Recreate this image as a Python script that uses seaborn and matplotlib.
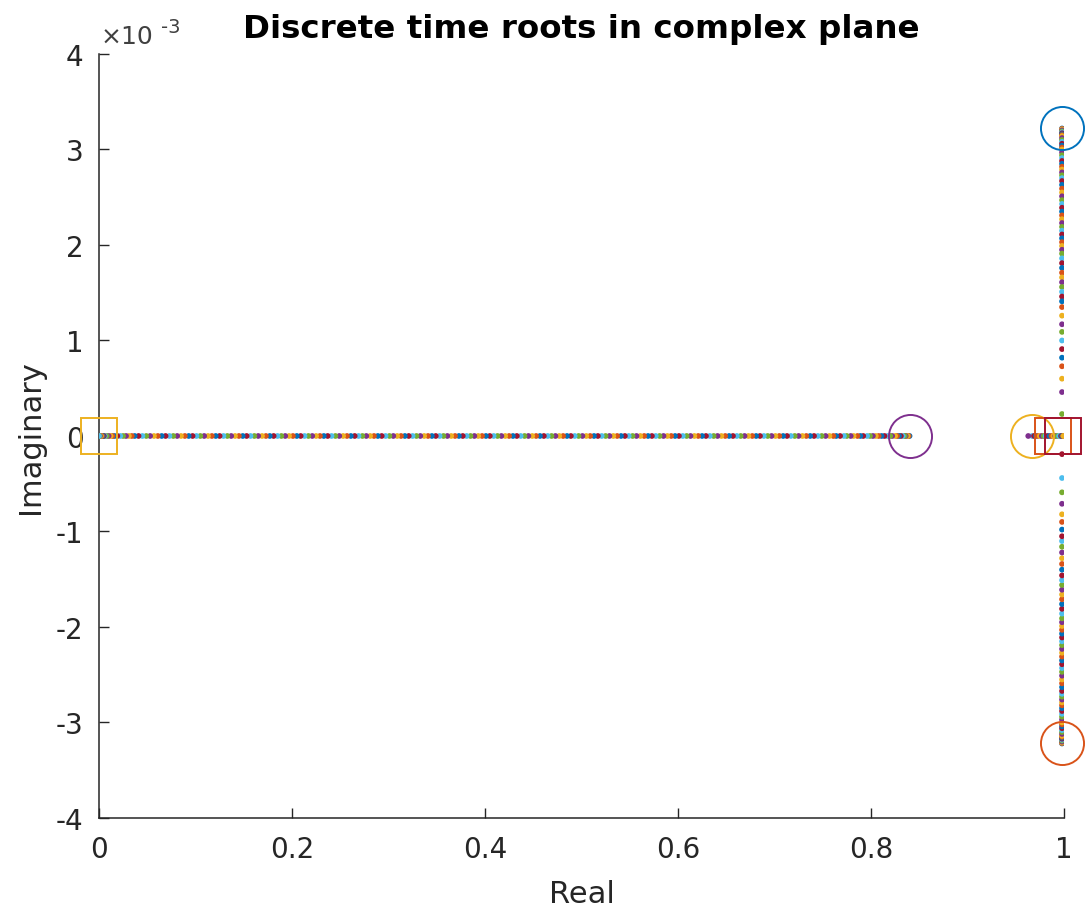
import matplotlib
matplotlib.use('agg')
import matplotlib.pyplot as plt
from matplotlib import ticker
import pandas as pd
import seaborn as sns

# matlab default colour order, cycled per gain step
matlab_colors = ['#0072BD', '#D95319', '#EDB120', '#7E2F8E', '#77AC30', '#4DBEEE', '#A2142F']

# real root moving from the pole at 0.84 towards the zero at 0 (imag = 0)
locus_real = [
    0.840, 0.839, 0.838, 0.836, 0.835, 0.833, 0.831, 0.829, 0.827, 0.825,
    0.822, 0.820, 0.817, 0.814, 0.811, 0.808, 0.805, 0.802, 0.799, 0.796,
    0.792, 0.789, 0.786, 0.782, 0.779, 0.775, 0.772, 0.768, 0.764, 0.761,
    0.757, 0.753, 0.749, 0.745, 0.741, 0.737, 0.733, 0.729, 0.725, 0.721,
    0.717, 0.713, 0.709, 0.705, 0.701, 0.697, 0.693, 0.689, 0.685, 0.681,
    0.677, 0.673, 0.669, 0.665, 0.661, 0.657, 0.653, 0.649, 0.645, 0.641,
    0.637, 0.633, 0.629, 0.625, 0.621, 0.617, 0.613, 0.609, 0.605, 0.601,
    0.597, 0.593, 0.589, 0.585, 0.581, 0.577, 0.573, 0.569, 0.565, 0.561,
    0.557, 0.553, 0.549, 0.545, 0.541, 0.537, 0.533, 0.529, 0.525, 0.521,
    0.517, 0.513, 0.509, 0.505, 0.501, 0.497, 0.493, 0.489, 0.485, 0.481,
    0.477, 0.473, 0.469, 0.465, 0.461, 0.457, 0.453, 0.449, 0.445, 0.441,
    0.437, 0.433, 0.429, 0.425, 0.421, 0.417, 0.413, 0.409, 0.405, 0.401,
    0.397, 0.393, 0.389, 0.385, 0.381, 0.377, 0.373, 0.369, 0.365, 0.361,
    0.357, 0.353, 0.349, 0.345, 0.341, 0.337, 0.333, 0.329, 0.325, 0.321,
    0.317, 0.313, 0.309, 0.305, 0.301, 0.297, 0.293, 0.289, 0.285, 0.281,
    0.277, 0.273, 0.269, 0.265, 0.261, 0.257, 0.253, 0.249, 0.245, 0.241,
    0.237, 0.233, 0.229, 0.225, 0.221, 0.217, 0.213, 0.209, 0.205, 0.201,
    0.197, 0.193, 0.189, 0.185, 0.181, 0.177, 0.173, 0.169, 0.165, 0.161,
    0.157, 0.153, 0.149, 0.145, 0.141, 0.137, 0.133, 0.129, 0.125, 0.121,
    0.117, 0.113, 0.109, 0.105, 0.101, 0.097, 0.093, 0.089, 0.085, 0.081,
    0.077, 0.073, 0.069, 0.065, 0.061, 0.057, 0.053, 0.049, 0.045, 0.041,
    0.037, 0.034, 0.031, 0.028, 0.025, 0.022, 0.019, 0.016, 0.014, 0.012,
    0.010, 0.008, 0.006, 0.005, 0.004, 0.003, 0.002, 0.001, 0.0005, 0.0,
]

# complex pair near z = 1 (real part ~0.998), imaginary parts
branch_real = 0.998
upper_imag = [
    3.22e-3, 3.215e-3, 3.21e-3, 3.20e-3, 3.19e-3, 3.18e-3, 3.17e-3, 3.16e-3, 3.15e-3, 3.14e-3,
    3.12e-3, 3.10e-3, 3.08e-3, 3.06e-3, 3.04e-3, 3.02e-3, 3.00e-3, 2.97e-3, 2.94e-3, 2.91e-3,
    2.88e-3, 2.85e-3, 2.82e-3, 2.79e-3, 2.76e-3, 2.73e-3, 2.70e-3, 2.67e-3, 2.63e-3, 2.59e-3,
    2.55e-3, 2.51e-3, 2.47e-3, 2.43e-3, 2.39e-3, 2.35e-3, 2.31e-3, 2.27e-3, 2.23e-3, 2.19e-3,
    2.15e-3, 2.11e-3, 2.07e-3, 2.03e-3, 1.99e-3, 1.95e-3, 1.91e-3, 1.86e-3, 1.81e-3, 1.76e-3,
    1.71e-3, 1.66e-3, 1.61e-3, 1.56e-3, 1.51e-3, 1.46e-3, 1.41e-3, 1.35e-3, 1.26e-3, 1.17e-3,
    1.09e-3, 1.00e-3, 0.91e-3, 0.82e-3, 0.73e-3, 0.60e-3, 0.46e-3, 0.23e-3,
]
lower_imag = [
    -3.22e-3, -3.215e-3, -3.21e-3, -3.20e-3, -3.19e-3, -3.18e-3, -3.17e-3, -3.16e-3, -3.15e-3, -3.14e-3,
    -3.12e-3, -3.10e-3, -3.08e-3, -3.06e-3, -3.04e-3, -3.02e-3, -3.00e-3, -2.97e-3, -2.94e-3, -2.91e-3,
    -2.88e-3, -2.85e-3, -2.82e-3, -2.79e-3, -2.76e-3, -2.73e-3, -2.70e-3, -2.67e-3, -2.63e-3, -2.59e-3,
    -2.55e-3, -2.51e-3, -2.47e-3, -2.43e-3, -2.39e-3, -2.35e-3, -2.31e-3, -2.27e-3, -2.23e-3, -2.19e-3,
    -2.15e-3, -2.11e-3, -2.07e-3, -2.03e-3, -1.99e-3, -1.95e-3, -1.91e-3, -1.86e-3, -1.81e-3, -1.76e-3,
    -1.71e-3, -1.66e-3, -1.61e-3, -1.56e-3, -1.51e-3, -1.46e-3, -1.40e-3, -1.34e-3, -1.28e-3, -1.22e-3,
    -1.16e-3, -1.10e-3, -1.05e-3, -0.98e-3, -0.90e-3, -0.82e-3, -0.71e-3, -0.59e-3, -0.44e-3, -0.19e-3,
]

# roots on the real axis between the pole at 0.967 and the zeros near 1
near_one_real = [
    0.967, 0.969, 0.971, 0.973, 0.975, 0.977, 0.979, 0.981, 0.983, 0.985,
    0.987, 0.989, 0.991, 0.993, 0.995, 0.997, 0.998, 0.999, 0.9995, 0.963,
]

# open loop poles (circles) and zeros (squares)
pole_real = [0.998, 0.998, 0.967, 0.840]
pole_imag = [3.22e-3, -3.22e-3, 0.0, 0.0]
pole_colors = ['#0072BD', '#D95319', '#EDB120', '#7E2F8E']
zero_real = [0.0, 0.989, 0.9993]
zero_imag = [0.0, 0.0, 0.0]
zero_colors = ['#EDB120', '#D95319', '#A2142F']

rows = []
for k, x in enumerate(locus_real):
    rows.append((k, x, 0.0))
for k, y in enumerate(upper_imag):
    rows.append((k, branch_real, y))
for k, y in enumerate(lower_imag):
    rows.append((k, branch_real, y))
for k, x in enumerate(near_one_real):
    rows.append((len(upper_imag) + k, x, 0.0))
df = pd.DataFrame(rows, columns=['step', 're', 'im'])
df = df.sort_values('step', kind='stable')
df['c'] = ['c%d' % (s % 7) for s in df['step']]
pal = {'c%d' % i: matlab_colors[i] for i in range(7)}

sns.set_style("ticks")
plt.rcParams['font.family'] = ['DejaVu Sans']
plt.rcParams['axes.unicode_minus'] = False

fig = plt.figure(figsize=(10.89, 9.12), dpi=100)
ax = fig.add_axes([0.0909, 0.102, 0.8861, 0.8377])

sns.scatterplot(data=df, x='re', y='im', hue='c', palette=pal, legend=False,
                s=17, linewidth=0, ax=ax, zorder=3)

for x, y, c in zip(pole_real, pole_imag, pole_colors):
    ax.plot(x, y, 'o', ms=31, mfc='none', mec=c, mew=1.4, zorder=4, clip_on=False)
for x, y, c in zip(zero_real, zero_imag, zero_colors):
    ax.plot(x, y, 's', ms=26, mfc='none', mec=c, mew=1.4, zorder=4, clip_on=False)

ax.set_xlim(0, 1)
ax.set_ylim(-4e-3, 4e-3)
ax.set_xticks([0, 0.2, 0.4, 0.6, 0.8, 1])
ax.set_yticks([-4e-3, -3e-3, -2e-3, -1e-3, 0, 1e-3, 2e-3, 3e-3, 4e-3])
ax.xaxis.set_major_formatter(ticker.FormatStrFormatter('%g'))
ax.yaxis.set_major_formatter(ticker.FuncFormatter(lambda v, pos: '%g' % round(v * 1e3, 6)))

# matlab style exponent label above the y axis
ax.annotate('\u00d710', xy=(0, 1), xycoords='axes fraction', xytext=(1, 8),
            textcoords='offset points', fontsize=18, color='#404040', va='baseline')
ax.annotate('-3', xy=(0, 1), xycoords='axes fraction', xytext=(45, 16),
            textcoords='offset points', fontsize=14, color='#404040', va='baseline')

sns.despine(ax=ax)
for side in ['left', 'bottom']:
    ax.spines[side].set_color('#262626')
    ax.spines[side].set_linewidth(1.1)
ax.tick_params(axis='both', direction='in', length=7, width=1, color='#262626',
               labelsize=20, labelcolor='#262626')
ax.tick_params(axis='x', pad=12)
ax.tick_params(axis='y', pad=11)

ax.set_xlabel('Real', fontsize=22, color='#262626', labelpad=12)
ax.set_ylabel('Imaginary', fontsize=22, color='#262626', labelpad=8)
ax.set_title('Discrete time roots in complex plane', fontsize=23.4, fontweight='bold',
             color='black', pad=12)

fig.savefig('out.png', dpi=100)
